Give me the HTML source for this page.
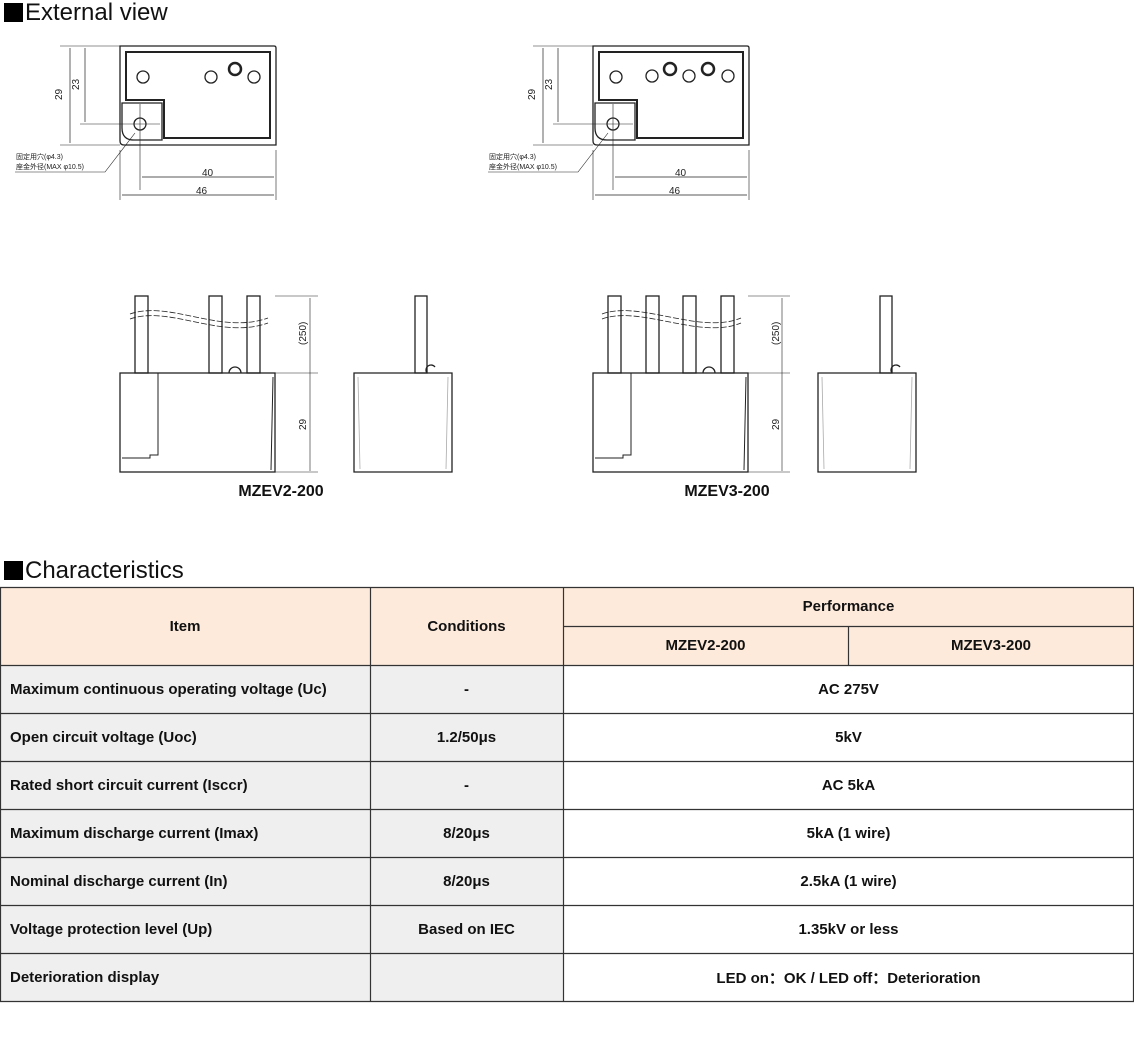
<!DOCTYPE html>
<html><head><meta charset="utf-8"><style>
body{margin:0;width:1134px;height:1058px;background:#fff;position:relative;font-family:"Liberation Sans",Arial,sans-serif;overflow:hidden}
.h{position:absolute;left:4px;font-size:24px;color:#111;line-height:26px;white-space:nowrap}
.h i{display:inline-block;width:19px;height:19px;background:#000;margin-right:2px;vertical-align:-2px}
.c{position:absolute;box-sizing:border-box;display:flex;align-items:center;font-weight:bold;font-size:15px;color:#111}
.ctr{justify-content:center}
.lb{padding-left:10px}
</style></head><body>
<div class="h" style="top:0px"><i></i>External view</div>
<div class="h" style="top:558px"><i></i>Characteristics</div>
<svg width="1134" height="560" style="position:absolute;left:0;top:0" font-family="Liberation Sans" fill="none" stroke="#222" stroke-width="1.3">
<defs>
<g id="top">
<path d="M0,46 H154 Q156,46 156,48 V145 H4 Q0,145 0,141 Z"/>
<path d="M6,52 H150 V138 H44 V100 H6 Z" stroke-width="2"/>
<path d="M2,103 H42 V140 H14 Q2,140 2,128 Z"/>
<circle cx="20" cy="124" r="6"/>
<circle cx="23" cy="77" r="6"/>
<path d="M-60,46 H0 M-60,145 H0 M-40,124 H40 M20,104 V190 M0,150 V200 M156,150 V200" stroke-width="0.6"/>
<path d="M-50,48 V143 M-35,48 V122 M22,177 H154 M2,195 H154" stroke-width="0.7"/>
<path d="M15,133 L-15,172 H-105" stroke-width="0.6"/>
<text x="-58" y="100" font-size="10" fill="#222" stroke="none" transform="rotate(-90 -58 100)">29</text>
<text x="-41" y="90" font-size="10" fill="#222" stroke="none" transform="rotate(-90 -41 90)">23</text>
<text x="82" y="176" font-size="10" fill="#222" stroke="none">40</text>
<text x="76" y="194" font-size="10" fill="#222" stroke="none">46</text>
<text x="-104" y="159" font-size="7" fill="#222" stroke="none">固定用穴(φ4.3)</text>
<text x="-104" y="169" font-size="7" fill="#222" stroke="none">座金外径(MAX φ10.5)</text>
</g>
<g id="side">
<path d="M0,0 H98 V99 H0 Z"/>
<path d="M4,4 L6,96 M94,4 L92,96" stroke="#aaa" stroke-width="0.8"/>
</g>
</defs>
<use href="#top" x="120"/>
<circle cx="211" cy="77" r="6"/><circle cx="235" cy="69" r="6" stroke-width="2.5"/><circle cx="254" cy="77" r="6"/>
<use href="#top" x="593"/>
<circle cx="652" cy="76" r="6"/><circle cx="670" cy="69" r="6" stroke-width="2.5"/><circle cx="689" cy="76" r="6"/><circle cx="708" cy="69" r="6" stroke-width="2.5"/><circle cx="728" cy="76" r="6"/>
<g>
<rect x="135" y="296" width="13" height="77"/><rect x="209" y="296" width="13" height="77"/><rect x="247" y="296" width="13" height="77"/>
<path d="M130,314 C170,300 220,335 268,318 M130,319 C170,305 220,340 268,323" stroke-dasharray="6 2" stroke-width="0.8"/>
<path d="M229,373 a6,6 0 0 1 12,0"/>
<rect x="120" y="373" width="155" height="99"/>
<path d="M158,373 V455 H150 V458 H122 M273,377 L271,470" stroke-width="1"/>
<path d="M275,296 H318 M275,373 H318 M275,472 H318 M310,298 V471" stroke-width="0.6"/>
<text x="306" y="345" font-size="10" fill="#222" stroke="none" transform="rotate(-90 306 345)">(250)</text>
<text x="306" y="430" font-size="10" fill="#222" stroke="none" transform="rotate(-90 306 430)">29</text>
</g>
<use href="#side" x="354" y="373"/>
<rect x="415" y="296" width="12" height="77"/><path d="M427,373 a5,5 0 0 1 8,-6"/>
<g>
<rect x="608" y="296" width="13" height="77"/><rect x="646" y="296" width="13" height="77"/><rect x="683" y="296" width="13" height="77"/><rect x="721" y="296" width="13" height="77"/>
<path d="M602,314 C640,300 700,335 741,318 M602,319 C640,305 700,340 741,323" stroke-dasharray="6 2" stroke-width="0.8"/>
<path d="M703,373 a6,6 0 0 1 12,0"/>
<rect x="593" y="373" width="155" height="99"/>
<path d="M631,373 V455 H623 V458 H595 M746,377 L744,470" stroke-width="1"/>
<path d="M748,296 H790 M748,373 H790 M748,472 H790 M782,298 V471" stroke-width="0.6"/>
<text x="779" y="345" font-size="10" fill="#222" stroke="none" transform="rotate(-90 779 345)">(250)</text>
<text x="779" y="430" font-size="10" fill="#222" stroke="none" transform="rotate(-90 779 430)">29</text>
</g>
<use href="#side" x="818" y="373"/>
<rect x="880" y="296" width="12" height="77"/><path d="M892,373 a5,5 0 0 1 8,-6"/>
<text x="281" y="496" font-size="16" font-weight="bold" fill="#111" stroke="none" text-anchor="middle">MZEV2-200</text>
<text x="727" y="496" font-size="16" font-weight="bold" fill="#111" stroke="none" text-anchor="middle">MZEV3-200</text>
</svg>
<svg width="1134" height="1058" style="position:absolute;left:0;top:0">
<rect x="0" y="587" width="1134" height="78" fill="#fdeadb"/>
<rect x="0" y="665" width="563" height="336" fill="#efefef"/>
<g stroke="#333" stroke-width="1.2" fill="none">
<path d="M0,587.5 H1134 M563,626.5 H1134 M0,665.5 H1134 M0,713.5 H1134 M0,761.5 H1134 M0,809.5 H1134 M0,857.5 H1134 M0,905.5 H1134 M0,953.5 H1134 M0,1001.5 H1134"/>
<path d="M0.5,587 V1001 M370.5,587 V1001 M563.5,587 V1001 M848.5,626 V665 M1133.5,587 V1001"/>
</g></svg>
<div class="c ctr" style="left:0;top:587px;width:370px;height:78px">Item</div>
<div class="c ctr" style="left:370px;top:587px;width:193px;height:78px">Conditions</div>
<div class="c ctr" style="left:563px;top:587px;width:571px;height:39px">Performance</div>
<div class="c ctr" style="left:563px;top:626px;width:285px;height:39px">MZEV2-200</div>
<div class="c ctr" style="left:848px;top:626px;width:286px;height:39px">MZEV3-200</div>
<div class="c lb" style="left:0;top:665px;width:370px;height:48px">Maximum continuous operating voltage (Uc)</div>
<div class="c ctr" style="left:370px;top:665px;width:193px;height:48px">-</div>
<div class="c ctr" style="left:563px;top:665px;width:571px;height:48px">AC 275V</div>
<div class="c lb" style="left:0;top:713px;width:370px;height:48px">Open circuit voltage (Uoc)</div>
<div class="c ctr" style="left:370px;top:713px;width:193px;height:48px">1.2/50μs</div>
<div class="c ctr" style="left:563px;top:713px;width:571px;height:48px">5kV</div>
<div class="c lb" style="left:0;top:761px;width:370px;height:48px">Rated short circuit current (Isccr)</div>
<div class="c ctr" style="left:370px;top:761px;width:193px;height:48px">-</div>
<div class="c ctr" style="left:563px;top:761px;width:571px;height:48px">AC 5kA</div>
<div class="c lb" style="left:0;top:809px;width:370px;height:48px">Maximum discharge current (Imax)</div>
<div class="c ctr" style="left:370px;top:809px;width:193px;height:48px">8/20μs</div>
<div class="c ctr" style="left:563px;top:809px;width:571px;height:48px">5kA (1 wire)</div>
<div class="c lb" style="left:0;top:857px;width:370px;height:48px">Nominal discharge current (In)</div>
<div class="c ctr" style="left:370px;top:857px;width:193px;height:48px">8/20μs</div>
<div class="c ctr" style="left:563px;top:857px;width:571px;height:48px">2.5kA (1 wire)</div>
<div class="c lb" style="left:0;top:905px;width:370px;height:48px">Voltage protection level (Up)</div>
<div class="c ctr" style="left:370px;top:905px;width:193px;height:48px">Based on IEC</div>
<div class="c ctr" style="left:563px;top:905px;width:571px;height:48px">1.35kV or less</div>
<div class="c lb" style="left:0;top:953px;width:370px;height:48px">Deterioration display</div>
<div class="c ctr" style="left:563px;top:953px;width:571px;height:48px">LED on：OK / LED off：Deterioration</div>
</body></html>
